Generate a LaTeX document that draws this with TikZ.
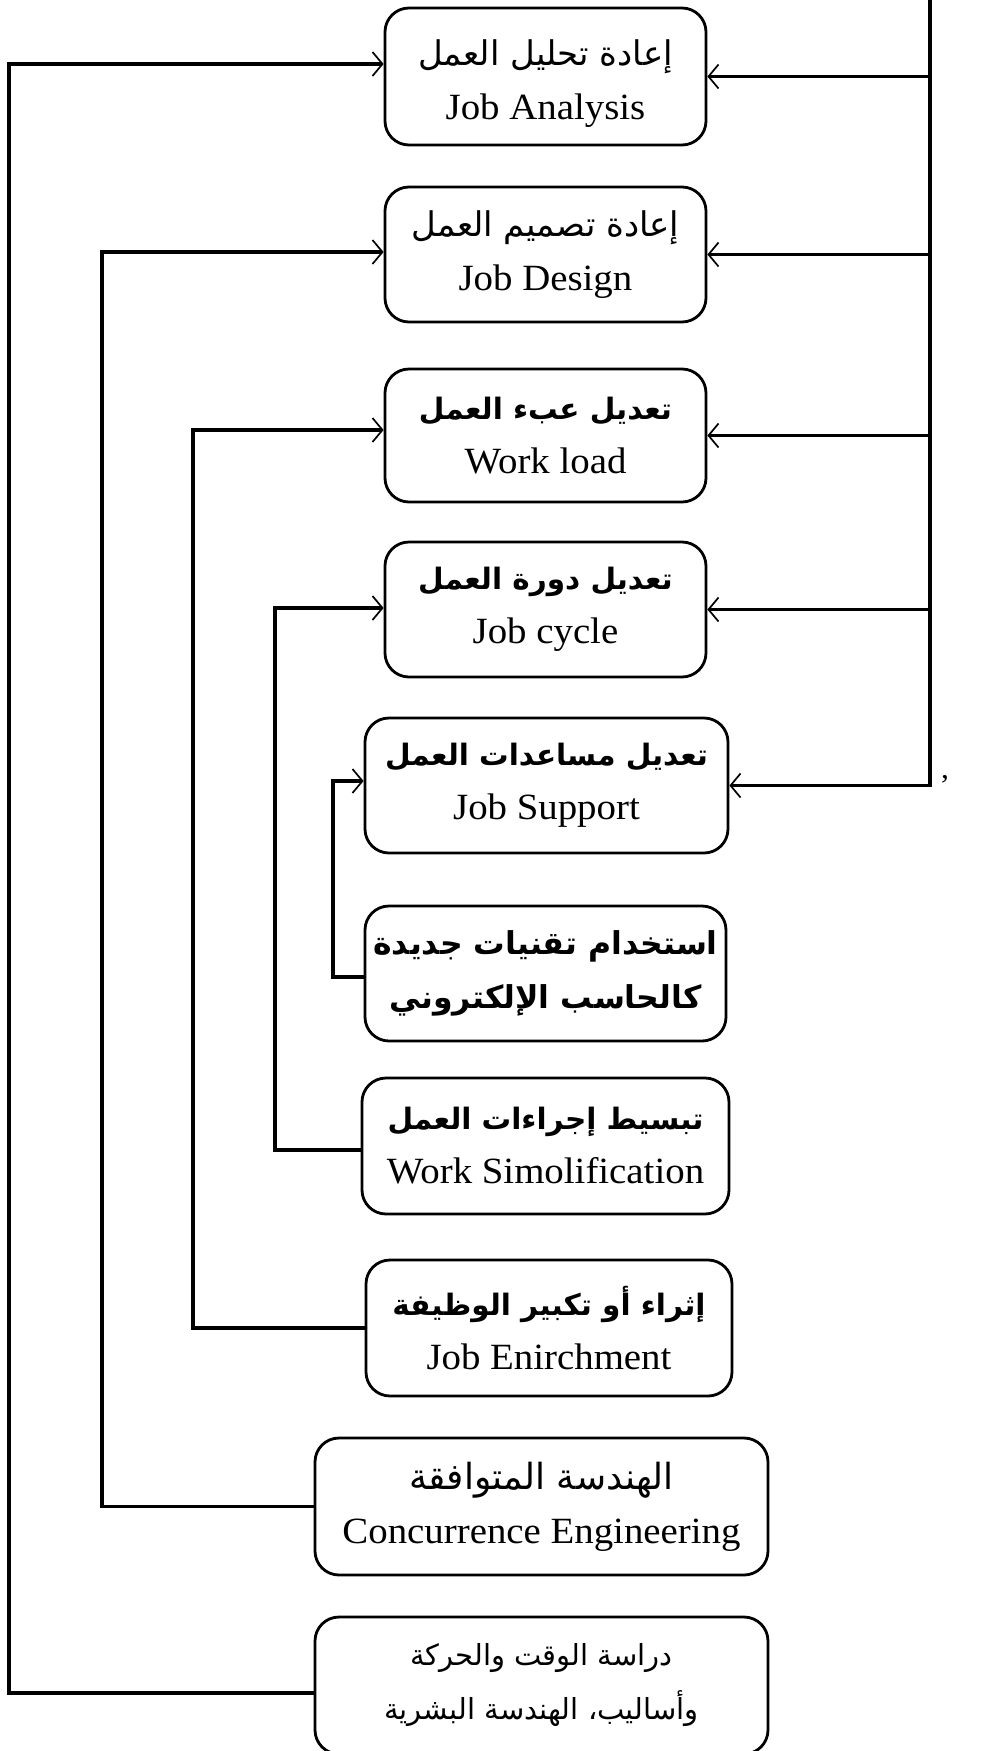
\documentclass[tikz,border=0pt]{standalone}
\usepackage{fontspec}
\setmainfont{Liberation Serif}[FakeStretch=1.05]
\newfontfamily\arabicfont[Script=Arabic]{DejaVu Sans}
\TeXXeTstate=1
\usetikzlibrary{arrows.meta}
\newcommand{\artxt}[2][34]{{\arabicfont\fontsize{#1}{54}\selectfont\beginR #2\endR}}
\newcommand{\arbold}[2][29.5]{{\arabicfont\bfseries\fontsize{#1}{54}\selectfont\beginR #2\endR}}
\begin{document}
\begin{tikzpicture}[x=1pt,y=-1pt,
  box/.style={draw, line width=2.8pt, rounded corners=24pt, align=center, inner sep=0pt,
    font=\fontsize{37}{54}\selectfont},
  conn/.style={line width=3.2pt},
  arr/.style={conn, -{Straight Barb[length=10pt,width=24pt,line width=1.7pt]}}]
\useasboundingbox (0,0) rectangle (990,1751);

\node[box, minimum width=321pt, minimum height=137pt] (b1) at (545.5,76.5) {\rule{0pt}{40pt}\artxt{إعادة تحليل العمل}\\Job Analysis};
\node[box, minimum width=321pt, minimum height=135pt] (b2) at (545.5,254.5) {\artxt{إعادة تصميم العمل}\\Job Design};
\node[box, minimum width=321pt, minimum height=133pt] (b3) at (545.5,435.5) {\arbold{تعديل عبء العمل}\\Work load};
\node[box, minimum width=321pt, minimum height=135pt] (b4) at (545.5,609.5) {\arbold{تعديل دورة العمل}\\Job cycle};
\node[box, minimum width=363pt, minimum height=135pt] (b5) at (546.5,785.5) {\arbold{تعديل مساعدات العمل}\\Job Support};
\node[box, minimum width=361pt, minimum height=135pt] (b6) at (545.5,973.5) {\arbold[31.5]{استخدام تقنيات جديدة}\\\arbold[31.5]{كالحاسب الإلكتروني}};
\node[box, minimum width=367pt, minimum height=136pt] (b7) at (545.5,1146) {\arbold{تبسيط إجراءات العمل}\\Work Simolification};
\node[box, minimum width=366pt, minimum height=136pt] (b8) at (549,1328) {\arbold{إثراء أو تكبير الوظيفة}\\Job Enirchment};
\node[box, minimum width=453pt, minimum height=137pt] (b9) at (541.5,1506.5) {\artxt[36]{الهندسة المتوافقة}\\Concurrence Engineering};
\node[box, minimum width=453pt, minimum height=137pt] (b10) at (541.5,1685.5) {\artxt[29]{دراسة الوقت والحركة}\\\artxt[29]{وأساليب، الهندسة البشرية}};

\node[inner sep=0pt, anchor=base, font=\fontsize{30}{30}\selectfont] (mark) at (945,778) {,};

% right bus
\coordinate (bustop) at (930,-5);
\draw[arr] (bustop) |- (b5.east);
\draw[arr] (b1.east -| bustop) -- (b1.east);
\draw[arr] (b2.east -| bustop) -- (b2.east);
\draw[arr] (b3.east -| bustop) -- (b3.east);
\draw[arr] (b4.east -| bustop) -- (b4.east);

% left lanes
\coordinate (lane1) at (9,0);
\coordinate (lane2) at (102,0);
\coordinate (lane3) at (193,0);
\coordinate (lane4) at (275,0);
\coordinate (lane5) at (333,0);

\coordinate (s10) at ([yshift=-7.5pt]b10.west);
\coordinate (e1) at ([yshift=12.5pt]b1.west);
\coordinate (s9) at (b9.west);
\coordinate (e2) at ([yshift=2.5pt]b2.west);
\coordinate (s8) at (b8.west);
\coordinate (e3) at ([yshift=5.5pt]b3.west);
\coordinate (s7) at ([yshift=-4pt]b7.west);
\coordinate (e4) at ([yshift=1.5pt]b4.west);
\coordinate (s6) at ([yshift=-3.5pt]b6.west);
\coordinate (e5) at ([yshift=4.5pt]b5.west);

\draw[arr] (s10) -| (lane1 |- e1) -- (e1);
\draw[arr] (s9) -| (lane2 |- e2) -- (e2);
\draw[arr] (s8) -| (lane3 |- e3) -- (e3);
\draw[arr] (s7) -| (lane4 |- e4) -- (e4);
\draw[arr] (s6) -| (lane5 |- e5) -- (e5);
\end{tikzpicture}
\end{document}
